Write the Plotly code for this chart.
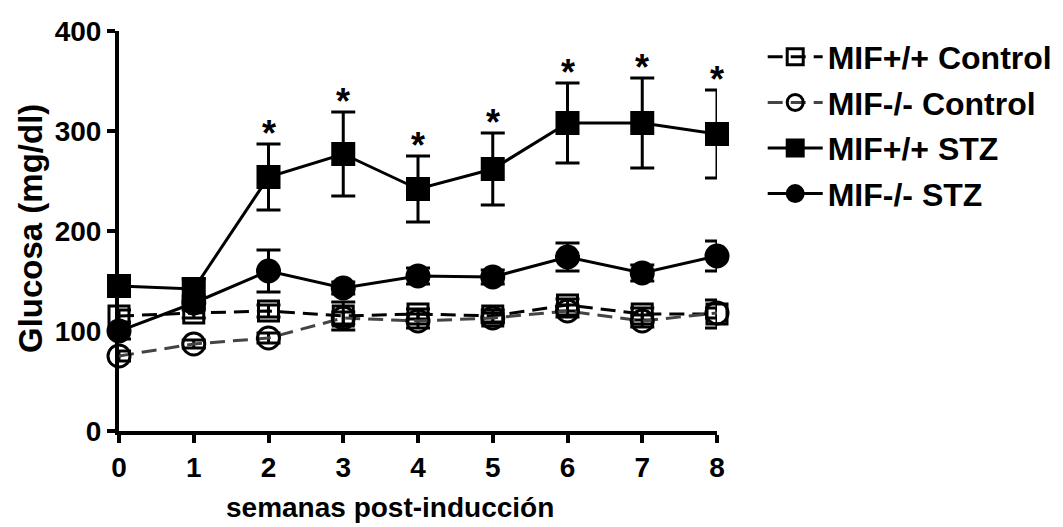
import plotly.graph_objects as go

# Weeks after induction
weeks = [0, 1, 2, 3, 4, 5, 6, 7, 8]

# Blood glucose (mg/dl), mean and SEM per group
wt_ctrl = [115, 118, 120, 115, 117, 115, 126, 117, 117]
wt_ctrl_sem = [6, 5, 6, 14, 5, 6, 6, 6, 14]
ko_ctrl = [75, 87, 93, 113, 110, 113, 120, 110, 118]
ko_ctrl_sem = [5, 4, 5, 6, 7, 5, 6, 6, 5]
wt_stz = [145, 142, 254, 277, 242, 262, 308, 308, 297]
wt_stz_sem = [8, 10, 33, 42, 33, 36, 40, 45, 44]
ko_stz = [100, 128, 160, 143, 155, 154, 174, 158, 175]
ko_stz_sem = [8, 7, 21, 6, 8, 7, 14, 8, 15]

# Significance marks over MIF+/+ STZ
sig = ["", "", "*", "*", "*", "*", "*", "*", "*"]

names = ["MIF+/+ Control", "MIF-/- Control", "MIF+/+ STZ", "MIF-/- STZ"]
y_tick_vals = [0, 100, 200, 300, 400]

FONT = "Liberation Sans, Arial, sans-serif"
TXT = dict(family=FONT, size=28, color="black", weight="bold")

fig = go.Figure()

def err(vals):
    return dict(type="data", array=vals, visible=True, color="black",
                thickness=3, width=12)

series = [
    (names[0], wt_ctrl, wt_ctrl_sem, "square-open", "black", "15px,8px", 20),
    (names[1], ko_ctrl, ko_ctrl_sem, "circle-open", "#444444", "15px,8px", 22),
    (names[2], wt_stz, wt_stz_sem, "square", "black", "solid", 21),
    (names[3], ko_stz, ko_stz_sem, "circle", "black", "solid", 22),
]

for i, (name, vals, sem, sym, lcol, dash, size) in enumerate(series):
    fig.add_trace(go.Scatter(
        x=weeks, y=vals, name=name, mode="lines+markers",
        legendgroup=f"g{i}",
        line=dict(color=lcol, width=3, dash=dash),
        marker=dict(symbol=sym, size=size, color="black",
                    line=dict(color="black", width=3)),
        error_y=err(sem),
        cliponaxis=False,
    ))

for x, v, s, mark in zip(weeks, wt_stz, wt_stz_sem, sig):
    if mark:
        fig.add_annotation(x=x, y=v + s, text=mark, showarrow=False,
                           yanchor="bottom", yshift=-12,
                           font=dict(family=FONT, size=36, color="black",
                                     weight="bold"))

# Axis titles
fig.add_annotation(xref="paper", yref="paper", x=0.453, y=-0.1925,
                   text="semanas post-inducción", showarrow=False,
                   xanchor="center", yanchor="middle", font=TXT)
fig.add_annotation(xref="paper", yref="paper", x=-0.1488, y=0.505,
                   text="Glucosa (mg/dl)", showarrow=False, textangle=-90,
                   xanchor="center", yanchor="middle",
                   font=dict(TXT, size=33))

axis_common = dict(
    showline=True, linecolor="black", linewidth=4,
    ticks="outside", ticklen=8, tickwidth=4, tickcolor="black",
    showgrid=False, zeroline=False, layer="below traces",
    tickfont=TXT,
)

fig.update_xaxes(range=[0, 8], tickvals=weeks, **axis_common)
fig.update_yaxes(range=[0, 400], tickvals=y_tick_vals, **axis_common)

fig.update_layout(
    width=1063, height=527,
    margin=dict(l=119, r=346, t=31, b=96),
    paper_bgcolor="white", plot_bgcolor="white",
    showlegend=True,
    legend=dict(
        xref="container", yref="container", x=0.7175, y=0.944,
        xanchor="left", yanchor="top",
        font=dict(TXT, size=32), itemwidth=55,
        tracegroupgap=1, bgcolor="rgba(0,0,0,0)",
    ),
)

fig.write_html("out.html")
